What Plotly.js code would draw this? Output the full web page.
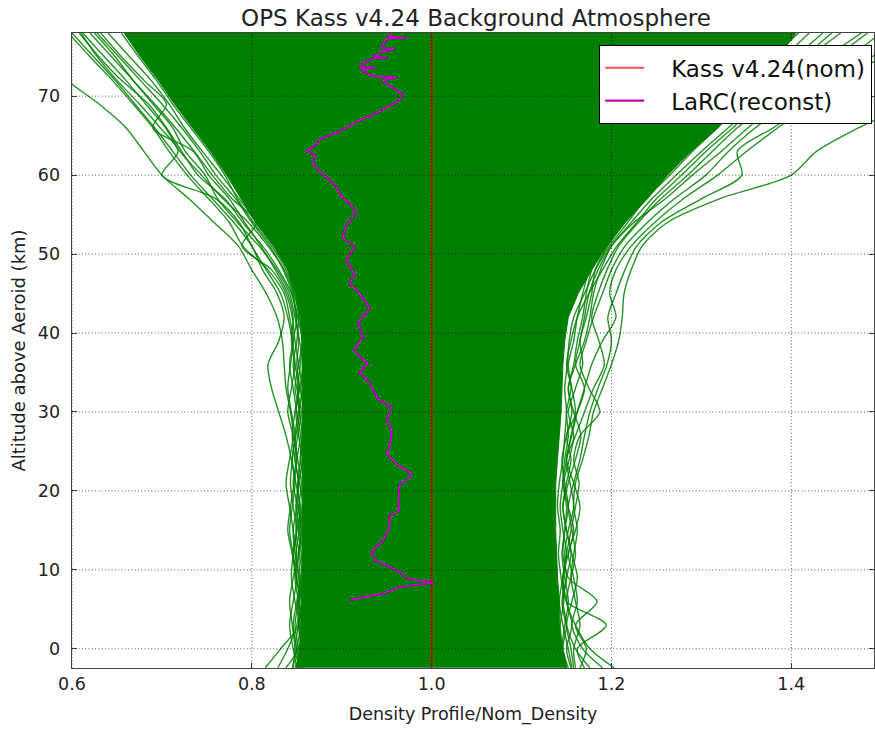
<!DOCTYPE html>
<html>
<head>
<meta charset="utf-8">
<script src="https://cdn.plot.ly/plotly-3.0.1.min.js"></script>
<style>html,body{margin:0;padding:0;background:#fff;}#chart{width:875px;height:729px;}</style>
</head>
<body>
<div id="chart"></div>
<script>
// Altitude grid (km) shared by the dispersion profiles
const alt = [-2.4, 0, 3, 6, 9, 12, 15, 18, 21, 24, 27, 30, 33, 36, 39, 42, 45, 48, 51, 54, 57, 60, 63, 66, 69, 72, 75, 78];

// Dense core of the Monte-Carlo dispersion cloud (left / right edges)
const coreLeft  = [0.850, 0.853, 0.855, 0.856, 0.856, 0.856, 0.856, 0.856, 0.856, 0.856, 0.856, 0.856, 0.856, 0.856, 0.856, 0.854, 0.849, 0.840, 0.824, 0.804, 0.788, 0.772, 0.754, 0.734, 0.714, 0.696, 0.676, 0.658];
const coreRight = [1.150, 1.145, 1.142, 1.142, 1.140, 1.139, 1.138, 1.138, 1.138, 1.140, 1.142, 1.144, 1.145, 1.146, 1.148, 1.152, 1.163, 1.178, 1.195, 1.215, 1.240, 1.262, 1.288, 1.318, 1.342, 1.365, 1.385, 1.405];

// Individual outlying dispersion profiles, low-density side
const leftRuns = [
  [0.815, 0.832, 0.852, 0.848, 0.844, 0.846, 0.850, 0.846, 0.843, 0.845, 0.848, 0.844, 0.840, 0.843, 0.846, 0.842, 0.836, 0.818, 0.790, 0.775, 0.752, 0.728, 0.708, 0.690, 0.668, 0.645, 0.620, 0.596],
  [0.829, 0.840, 0.850, 0.853, 0.850, 0.846, 0.842, 0.845, 0.848, 0.844, 0.838, 0.830, 0.822, 0.818, 0.830, 0.836, 0.828, 0.812, 0.800, 0.780, 0.756, 0.732, 0.712, 0.692, 0.670, 0.648, 0.624, 0.600],
  [0.846, 0.848, 0.845, 0.842, 0.846, 0.850, 0.846, 0.842, 0.838, 0.842, 0.846, 0.843, 0.838, 0.836, 0.834, 0.828, 0.816, 0.800, 0.785, 0.758, 0.730, 0.700, 0.680, 0.660, 0.630, 0.595, 0.570, 0.550],
  [0.850, 0.846, 0.842, 0.846, 0.850, 0.845, 0.840, 0.843, 0.847, 0.850, 0.846, 0.840, 0.844, 0.848, 0.845, 0.840, 0.832, 0.816, 0.800, 0.786, 0.760, 0.700, 0.718, 0.698, 0.675, 0.650, 0.628, 0.610],
  [0.852, 0.850, 0.846, 0.850, 0.853, 0.848, 0.846, 0.850, 0.852, 0.848, 0.845, 0.848, 0.852, 0.848, 0.844, 0.846, 0.840, 0.826, 0.810, 0.792, 0.775, 0.752, 0.735, 0.690, 0.705, 0.680, 0.655, 0.632],
  [0.838, 0.852, 0.856, 0.852, 0.848, 0.852, 0.855, 0.851, 0.846, 0.850, 0.854, 0.850, 0.846, 0.842, 0.846, 0.850, 0.845, 0.835, 0.820, 0.800, 0.782, 0.760, 0.742, 0.722, 0.700, 0.676, 0.652, 0.628],
  [0.855, 0.852, 0.848, 0.852, 0.856, 0.853, 0.849, 0.852, 0.855, 0.851, 0.848, 0.852, 0.856, 0.852, 0.848, 0.845, 0.838, 0.822, 0.789, 0.805, 0.778, 0.756, 0.736, 0.715, 0.692, 0.668, 0.644, 0.620],
  [0.848, 0.855, 0.852, 0.856, 0.852, 0.849, 0.853, 0.857, 0.853, 0.848, 0.851, 0.855, 0.850, 0.846, 0.850, 0.852, 0.847, 0.836, 0.818, 0.796, 0.768, 0.744, 0.720, 0.704, 0.682, 0.660, 0.636, 0.612],
  [0.853, 0.848, 0.852, 0.855, 0.849, 0.846, 0.850, 0.854, 0.849, 0.845, 0.849, 0.853, 0.848, 0.852, 0.856, 0.851, 0.844, 0.830, 0.812, 0.790, 0.770, 0.740, 0.722, 0.705, 0.685, 0.655, 0.630, 0.608],
  [0.856, 0.854, 0.857, 0.853, 0.857, 0.855, 0.852, 0.856, 0.858, 0.854, 0.856, 0.858, 0.854, 0.857, 0.853, 0.849, 0.846, 0.840, 0.826, 0.806, 0.786, 0.766, 0.745, 0.725, 0.708, 0.688, 0.664, 0.640],
  [0.857, 0.855, 0.853, 0.856, 0.854, 0.852, 0.855, 0.853, 0.851, 0.854, 0.856, 0.853, 0.851, 0.854, 0.856, 0.853, 0.848, 0.838, 0.822, 0.802, 0.784, 0.770, 0.752, 0.732, 0.712, 0.694, 0.674, 0.655],
  [0.845, 0.850, 0.854, 0.851, 0.855, 0.857, 0.853, 0.849, 0.852, 0.856, 0.852, 0.849, 0.853, 0.850, 0.852, 0.848, 0.842, 0.828, 0.808, 0.784, 0.762, 0.748, 0.726, 0.712, 0.690, 0.668, 0.648, 0.625]
];

// Individual outlying dispersion profiles, high-density side
const rightRuns = [
  [1.160, 1.158, 1.165, 1.160, 1.155, 1.158, 1.162, 1.158, 1.160, 1.168, 1.175, 1.180, 1.190, 1.200, 1.208, 1.212, 1.214, 1.222, 1.234, 1.262, 1.320, 1.400, 1.428, 1.475, 1.530, 1.570, 1.610, 1.650],
  [1.203, 1.176, 1.160, 1.150, 1.155, 1.160, 1.156, 1.152, 1.158, 1.165, 1.170, 1.176, 1.185, 1.195, 1.200, 1.196, 1.205, 1.215, 1.228, 1.255, 1.300, 1.345, 1.340, 1.380, 1.420, 1.460, 1.500, 1.540],
  [1.170, 1.162, 1.194, 1.150, 1.146, 1.150, 1.155, 1.160, 1.164, 1.158, 1.165, 1.187, 1.175, 1.165, 1.172, 1.180, 1.190, 1.200, 1.215, 1.240, 1.270, 1.305, 1.330, 1.360, 1.395, 1.430, 1.465, 1.500],
  [1.165, 1.172, 1.160, 1.184, 1.152, 1.148, 1.152, 1.158, 1.154, 1.150, 1.160, 1.170, 1.180, 1.192, 1.186, 1.178, 1.185, 1.195, 1.208, 1.230, 1.255, 1.285, 1.312, 1.340, 1.372, 1.405, 1.440, 1.478],
  [1.190, 1.168, 1.156, 1.162, 1.158, 1.152, 1.160, 1.165, 1.158, 1.150, 1.156, 1.162, 1.170, 1.178, 1.190, 1.205, 1.198, 1.205, 1.222, 1.248, 1.280, 1.318, 1.350, 1.385, 1.420, 1.455, 1.490, 1.525],
  [1.158, 1.155, 1.150, 1.156, 1.162, 1.156, 1.150, 1.146, 1.152, 1.160, 1.166, 1.158, 1.152, 1.160, 1.170, 1.176, 1.180, 1.188, 1.200, 1.222, 1.245, 1.272, 1.300, 1.330, 1.360, 1.390, 1.420, 1.455],
  [1.155, 1.150, 1.156, 1.150, 1.146, 1.152, 1.158, 1.152, 1.147, 1.153, 1.158, 1.152, 1.160, 1.168, 1.165, 1.172, 1.178, 1.182, 1.196, 1.215, 1.238, 1.265, 1.290, 1.318, 1.345, 1.375, 1.405, 1.435],
  [1.152, 1.146, 1.150, 1.146, 1.150, 1.146, 1.148, 1.152, 1.148, 1.145, 1.150, 1.156, 1.152, 1.158, 1.162, 1.168, 1.172, 1.178, 1.190, 1.208, 1.228, 1.255, 1.282, 1.310, 1.338, 1.362, 1.392, 1.420],
  [1.176, 1.160, 1.150, 1.145, 1.150, 1.155, 1.150, 1.146, 1.150, 1.155, 1.150, 1.162, 1.170, 1.160, 1.165, 1.170, 1.175, 1.185, 1.200, 1.225, 1.260, 1.290, 1.322, 1.352, 1.385, 1.418, 1.450, 1.485],
  [1.148, 1.145, 1.148, 1.152, 1.148, 1.145, 1.148, 1.150, 1.146, 1.148, 1.152, 1.150, 1.155, 1.152, 1.158, 1.162, 1.168, 1.175, 1.185, 1.203, 1.222, 1.246, 1.270, 1.298, 1.325, 1.352, 1.380, 1.408],
  [1.150, 1.146, 1.143, 1.147, 1.144, 1.141, 1.143, 1.140, 1.142, 1.146, 1.148, 1.150, 1.148, 1.151, 1.153, 1.158, 1.170, 1.182, 1.198, 1.218, 1.238, 1.262, 1.288, 1.318, 1.342, 1.365, 1.385, 1.405],
  [1.156, 1.152, 1.146, 1.142, 1.146, 1.150, 1.146, 1.143, 1.146, 1.150, 1.155, 1.160, 1.156, 1.150, 1.155, 1.162, 1.175, 1.190, 1.206, 1.228, 1.250, 1.278, 1.305, 1.335, 1.362, 1.390, 1.415, 1.445]
];

// Nominal Kass v4.24 profile (ratio = 1)
const nomAlt = [-2.4, 78];
const nomX = [1.0, 1.0];

// LaRC reconstructed profile
const larcAlt = [6.2, 7.0, 7.8, 8.4, 8.9, 9.5, 10.4, 11.2, 12.3, 13.7, 15.4, 16.9, 17.5, 18.8, 20.7, 21.5, 22.3, 23.2, 24.7, 26.4, 27.9, 28.9, 30.6, 31.7, 33.6, 35.0, 36.2, 36.9, 38.0, 39.5, 41.2, 43.1, 45.0, 46.2, 47.5, 49.2, 50.9, 52.1, 53.6, 55.3, 56.4, 57.2, 58.5, 59.3, 60.4, 61.4, 62.5, 63.0, 63.7, 64.6, 65.6, 66.7, 67.9, 69.2, 70.1, 70.5, 71.5, 72.0, 72.4, 72.5, 73.0, 73.4, 73.6, 73.7, 74.1, 74.8, 74.9, 75.0, 75.4, 76.0, 76.1, 76.6, 77.3, 77.4, 77.5, 78.0];
const larcX = [0.909, 0.946, 0.964, 1.003, 0.972, 0.968, 0.953, 0.937, 0.933, 0.946, 0.953, 0.953, 0.964, 0.963, 0.964, 0.974, 0.977, 0.963, 0.950, 0.955, 0.955, 0.950, 0.955, 0.940, 0.931, 0.920, 0.929, 0.920, 0.914, 0.924, 0.918, 0.931, 0.920, 0.909, 0.914, 0.905, 0.914, 0.901, 0.905, 0.916, 0.909, 0.900, 0.894, 0.887, 0.876, 0.868, 0.870, 0.861, 0.870, 0.876, 0.898, 0.916, 0.939, 0.961, 0.968, 0.964, 0.951, 0.945, 0.962, 0.935, 0.926, 0.922, 0.938, 0.921, 0.922, 0.935, 0.951, 0.936, 0.940, 0.959, 0.944, 0.946, 0.950, 0.973, 0.952, 0.955];

const xTicks = [0.6, 0.8, 1.0, 1.2, 1.4];
const yTicks = [0, 10, 20, 30, 40, 50, 60, 70];

const green = 'rgba(0,128,0,0.85)';
const traces = [];

// dense core polygon
traces.push({
  type: 'scatter', mode: 'lines',
  x: coreLeft.concat(coreRight.slice().reverse()),
  y: alt.concat(alt.slice().reverse()),
  fill: 'toself', fillcolor: '#008000',
  line: {color: '#008000', width: 1},
  showlegend: false, hoverinfo: 'skip'
});
leftRuns.concat(rightRuns).forEach(run => {
  traces.push({
    type: 'scatter', mode: 'lines', x: run, y: alt,
    line: {color: green, width: 1.4, shape: 'spline', smoothing: 0.8},
    showlegend: false, hoverinfo: 'skip'
  });
});
traces.push({
  type: 'scatter', mode: 'lines', x: nomX, y: nomAlt,
  name: '\u00a0\u00a0\u00a0Kass v4.24(nom)',
  line: {color: 'rgba(255,0,0,0.7)', width: 2}
});
traces.push({
  type: 'scatter', mode: 'lines', x: larcX, y: larcAlt,
  name: '\u00a0\u00a0\u00a0LaRC(reconst)',
  line: {color: '#bf00bf', width: 2.2}
});

const gridStyle = {color: 'rgba(0,0,0,0.65)', width: 1, dash: '1px,2.3px'};
const shapes = [];
xTicks.forEach(v => shapes.push({type: 'line', layer: 'above', xref: 'x', yref: 'paper', x0: v, x1: v, y0: 0, y1: 1, line: gridStyle}));
yTicks.forEach(v => shapes.push({type: 'line', layer: 'above', xref: 'paper', yref: 'y', x0: 0, x1: 1, y0: v, y1: v, line: gridStyle}));

const fontFam = 'DejaVu Sans, sans-serif';
const layout = {
  width: 875, height: 729,
  margin: {l: 72, r: 1, t: 33, b: 61},
  paper_bgcolor: '#fff', plot_bgcolor: '#fff',
  font: {family: fontFam, color: '#222', size: 17.5},
  title: {text: 'OPS Kass v4.24 Background Atmosphere', font: {size: 23, family: fontFam, color: '#222'}, x: 0.544, xanchor: 'center', y: 0.975, yanchor: 'middle'},
  xaxis: {
    range: [0.6, 1.492], tickvals: xTicks, tickformat: '.1f',
    showgrid: false, zeroline: false, showline: true, mirror: 'ticks',
    linecolor: '#444', linewidth: 1.4, ticks: 'inside', ticklen: 5, tickcolor: '#444',
    tickfont: {size: 17.5}, layer: 'above traces',
    title: {text: 'Density Profile/Nom_Density', font: {size: 17.5}, standoff: 14}
  },
  yaxis: {
    range: [-2.43, 78], tickvals: yTicks,
    showgrid: false, zeroline: false, showline: true, mirror: 'ticks',
    linecolor: '#444', linewidth: 1.4, ticks: 'inside', ticklen: 5, tickcolor: '#444',
    tickfont: {size: 17.5}, ticklabelstandoff: 7, layer: 'above traces',
    title: {text: 'Altitude above Aeroid (km)', font: {size: 18}, standoff: 7}
  },
  legend: {
    x: 0.9975, xanchor: 'right', y: 0.981, yanchor: 'top',
    bgcolor: '#fff', bordercolor: '#000', borderwidth: 1.2,
    font: {size: 23, family: fontFam, color: '#111'},
    itemwidth: 39, tracegroupgap: 2
  },
  shapes: shapes,
  showlegend: true
};

Plotly.newPlot('chart', traces, layout, {displayModeBar: false, staticPlot: true});
</script>
</body>
</html>
